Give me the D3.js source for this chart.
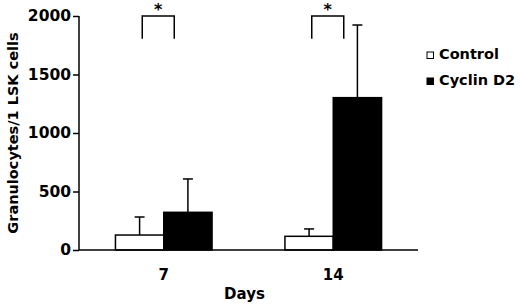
<!DOCTYPE html>
<html>
<head>
<meta charset="utf-8">
<script src="https://cdn.jsdelivr.net/npm/d3@7"></script>
<style>
  body { margin: 0; background: #fff; }
  text { font-family: "DejaVu Sans", sans-serif; font-weight: bold; fill: #000; }
</style>
</head>
<body>
<div id="chart"></div>
<script>
// data
var days = ["7", "14"];
var series = ["Control", "Cyclin D2"];
var controlMean = [128, 117];
var controlErr = [282, 180];
var cyclinMean = [322, 1302];
var cyclinErr = [607, 1923];
var yTicks = [0, 500, 1000, 1500, 2000];
var significant = ["*", "*"];

var width = 520, height = 306;
var margin = { top: 16, right: 102, bottom: 56, left: 79 };
var w = width - margin.left - margin.right,
    h = height - margin.top - margin.bottom;

var svg = d3.select("#chart").append("svg")
    .attr("width", width)
    .attr("height", height)
    .append("g")
    .attr("transform", "translate(" + margin.left + "," + margin.top + ")");

var x = d3.scaleBand()
    .domain(days)
    .range([0, w])
    .paddingInner(0.43)
    .paddingOuter(0.215);

var xSub = d3.scaleBand()
    .domain(series)
    .range([0, x.bandwidth()]);

var y = d3.scaleLinear()
    .domain([0, 2000])
    .range([h, 0]);

var rows = [];
days.forEach(function(d, i) {
    rows.push({ day: d, s: series[0], mean: controlMean[i], err: controlErr[i] });
    rows.push({ day: d, s: series[1], mean: cyclinMean[i], err: cyclinErr[i] });
});

// error bars (drawn under the bars)
var errs = svg.append("g").selectAll("g")
    .data(rows)
    .enter().append("g");

errs.append("line")
    .attr("x1", function(d) { return x(d.day) + xSub(d.s) + xSub.bandwidth() / 2; })
    .attr("x2", function(d) { return x(d.day) + xSub(d.s) + xSub.bandwidth() / 2; })
    .attr("y1", function(d) { return y(d.mean); })
    .attr("y2", function(d) { return y(d.err); })
    .attr("stroke", "#000")
    .attr("stroke-width", 1.5);

errs.append("line")
    .attr("x1", function(d) { return x(d.day) + xSub(d.s) + xSub.bandwidth() / 2 - 5; })
    .attr("x2", function(d) { return x(d.day) + xSub(d.s) + xSub.bandwidth() / 2 + 5; })
    .attr("y1", function(d) { return y(d.err); })
    .attr("y2", function(d) { return y(d.err); })
    .attr("stroke", "#000")
    .attr("stroke-width", 1.5);

// bars
svg.append("g").selectAll("rect")
    .data(rows)
    .enter().append("rect")
    .attr("x", function(d) { return x(d.day) + xSub(d.s); })
    .attr("y", function(d) { return y(d.mean); })
    .attr("width", xSub.bandwidth())
    .attr("height", function(d) { return h - y(d.mean); })
    .attr("fill", function(d) { return d.s === "Control" ? "#fff" : "#000"; })
    .attr("stroke", "#000")
    .attr("stroke-width", 1.5);

// axes
var yAxis = d3.axisLeft(y).tickValues(yTicks).tickFormat(d3.format("d")).tickSize(6).tickPadding(2);
var yg = svg.append("g").call(yAxis);
yg.select(".domain").attr("stroke-width", 1.5).attr("d", "M0," + h + "V0");
yg.selectAll(".tick line").attr("stroke-width", 1.5);
yg.selectAll("text").style("font-size", "15.5px").style("font-family", null);

svg.append("line")
    .attr("x1", 0).attr("x2", w)
    .attr("y1", h).attr("y2", h)
    .attr("stroke", "#000")
    .attr("stroke-width", 1.5);

svg.append("g").selectAll("text")
    .data(days)
    .enter().append("text")
    .attr("x", function(d) { return x(d) + x.bandwidth() / 2; })
    .attr("y", h + 30)
    .attr("text-anchor", "middle")
    .style("font-size", "15px")
    .text(function(d) { return d; });

svg.append("text")
    .attr("x", w / 2 - 4)
    .attr("y", h + 49)
    .attr("text-anchor", "middle")
    .style("font-size", "15px")
    .text("Days");

svg.append("text")
    .attr("transform", "translate(" + (-margin.left + 17.5) + "," + (h / 2) + ") rotate(-90)")
    .attr("text-anchor", "middle")
    .style("font-size", "14.5px")
    .text("Granulocytes/1 LSK cells");

// significance brackets
var br = svg.append("g").selectAll("g")
    .data(days)
    .enter().append("g");

br.append("path")
    .attr("d", function(d) {
        var cx = x(d) + x.bandwidth() / 2 - 5.5;
        return "M" + (cx - 16) + "," + y(1806) + "V" + y(2000) + "H" + (cx + 16) + "V" + y(1806);
    })
    .attr("fill", "none")
    .attr("stroke", "#000")
    .attr("stroke-width", 1.5);

br.append("text")
    .attr("x", function(d) { return x(d) + x.bandwidth() / 2 - 5.5; })
    .attr("y", -1)
    .attr("text-anchor", "middle")
    .style("font-size", "16px")
    .text(function(d, i) { return significant[i]; });

// legend
var lg = svg.append("g")
    .attr("transform", "translate(" + (w + 9) + ",35)");

var li = lg.selectAll("g")
    .data(series)
    .enter().append("g")
    .attr("transform", function(d, i) { return "translate(0," + (i * 26) + ")"; });

li.append("rect")
    .attr("width", 6.5).attr("height", 6.5)
    .attr("y", 1)
    .attr("fill", function(d) { return d === "Control" ? "#fff" : "#000"; })
    .attr("stroke", "#000")
    .attr("stroke-width", 1);

li.append("text")
    .attr("x", 12)
    .attr("y", 8)
    .style("font-size", "14.5px")
    .text(function(d) { return d; });
</script>
</body>
</html>
